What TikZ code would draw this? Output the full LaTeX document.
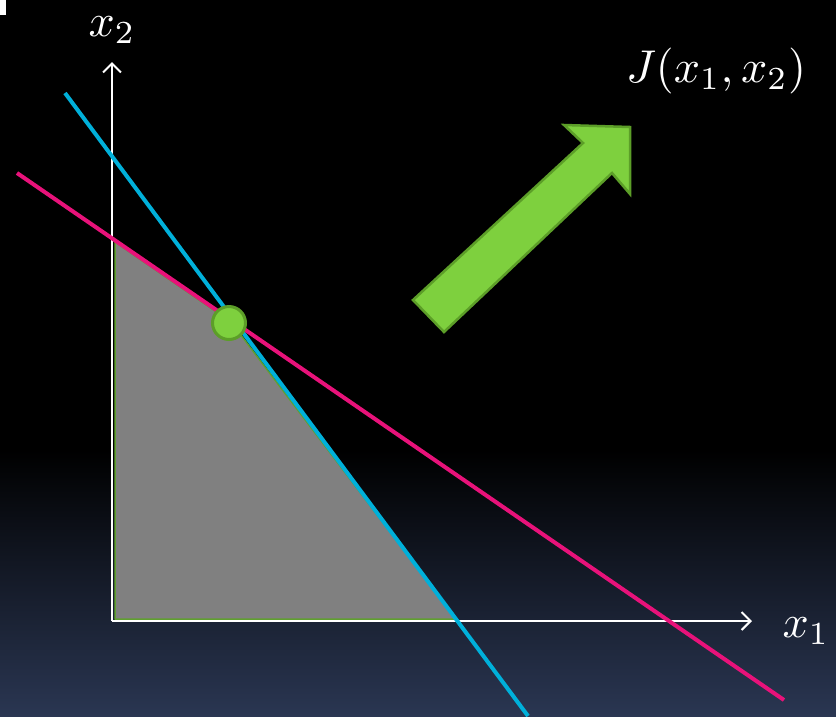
\documentclass[tikz,border=0pt]{standalone}
\usetikzlibrary{arrows.meta}
\definecolor{bgbot}{RGB}{42,54,82}
\definecolor{lineblue}{RGB}{0,176,218}
\definecolor{linepink}{RGB}{232,18,122}
\definecolor{regiongray}{RGB}{128,128,128}
\definecolor{edgegreen}{RGB}{96,160,48}
\definecolor{lightgreen}{RGB}{126,208,62}
\definecolor{darkgreen}{RGB}{92,158,40}
\newcommand{\biglabel}[1]{\scalebox{4.6}{$#1$}}
\tikzset{
  axisline/.style={draw=white, line width=2pt, -{Straight Barb[length=9pt,width=18pt,line width=2pt]}},
  constraint/.style={line width=4pt},
  lbl/.style={text=white, inner sep=0pt},
}
\begin{document}
\begin{tikzpicture}[x=1pt,y=-1pt]
\useasboundingbox (0,0) rectangle (836,716);
% background
\fill[black] (0,0) rectangle (836,450);
\shade[top color=black, bottom color=bgbot] (0,450) rectangle (836,716);
\fill[white] (0,0) rectangle (6,15);
% coordinates
\coordinate (O) at (112,621);
\coordinate (ytip) at (112,62);
\coordinate (xtip) at (752,621);
\coordinate (b1) at (65,93);
\coordinate (b2) at (528,716);
\coordinate (p1) at (17,173);
\coordinate (p2) at (784,700);
\coordinate (opt) at (229,323);
% feasible region
\fill[regiongray, draw=edgegreen, line width=1.5pt, line join=round]
  (115,242) -- (231,322) -- (456,619) -- (115,619) -- cycle;
% axes
\draw[axisline] (O) -- (ytip);
\draw[axisline] (O) -- (xtip);
% constraint lines
\draw[constraint, lineblue] (b1) -- (b2);
\draw[constraint, linepink] (p1) -- (p2);
% optimum
\node[circle, minimum size=33pt, inner sep=0pt, fill=lightgreen, draw=darkgreen, line width=3pt] (optnode) at (opt) {};
% objective direction arrow
\fill[lightgreen, draw=darkgreen, line width=2.5pt, line join=miter]
  (413,300) -- (583,143) -- (564,125) -- (630,127) -- (630,194) -- (612,173) -- (444,332) -- cycle;
% labels
\node[lbl] (lx2) at (112,30) {\biglabel{x_2}};
\node[lbl] (lx1) at (806,631) {\biglabel{x_1}};
\node[lbl] (lJ) at (716,71) {\biglabel{J(x_1,x_2)}};
\end{tikzpicture}
\end{document}
